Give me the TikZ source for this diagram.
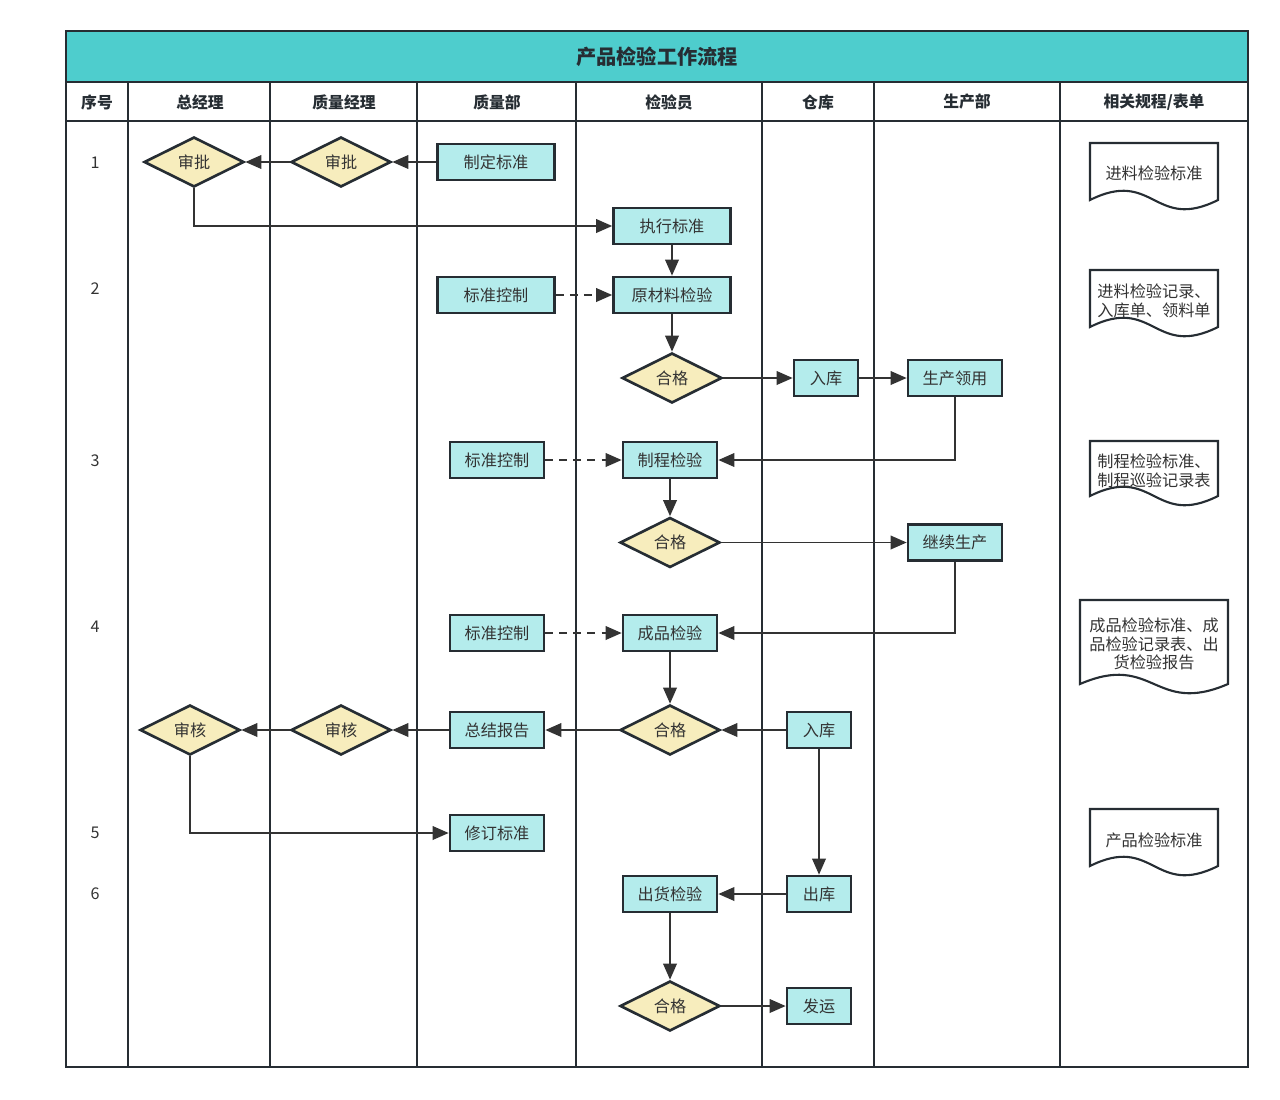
\documentclass[tikz,border=0pt]{standalone}
\usepackage{fontspec}
\setmainfont{Noto Sans CJK SC}
\usepackage{tikz}
\usetikzlibrary{shapes.geometric, arrows.meta, positioning}
\definecolor{titlecyan}{HTML}{4ECDCD}
\definecolor{boxcyan}{HTML}{B4ECEC}
\definecolor{gateyellow}{HTML}{F7EDBD}
\definecolor{edgedark}{HTML}{262D33}
\definecolor{linegray}{HTML}{333333}
\definecolor{textgray}{HTML}{333333}
\tikzstyle{task} = [rectangle, draw=edgedark, line width=1.5pt, fill=boxcyan, minimum width=1.88cm, minimum height=0.72cm, inner sep=0pt, text=textgray, font=\fontsize{9.2}{11}\selectfont]
\tikzstyle{widetask} = [task, minimum width=2.34cm]
\tikzstyle{smalltask} = [task, minimum width=1.28cm]
\tikzstyle{check} = [diamond, aspect=2, draw=edgedark, line width=1.5pt, fill=gateyellow, minimum width=2cm, minimum height=1cm, inner sep=0pt, text=textgray, font=\fontsize{9.2}{11}\selectfont]
\tikzstyle{arrow} = [line width=1.1pt, draw=linegray, -{Triangle[length=0.32cm, width=0.27cm]}]
\tikzstyle{dasharrow} = [arrow, dash pattern=on 4.5pt off 3.5pt]
\tikzstyle{lane} = [draw=edgedark, line width=1.2pt]
\tikzstyle{head} = [text=edgedark, font=\bfseries\fontsize{9}{11}\selectfont]
\tikzstyle{sheet} = [draw=edgedark, line width=1.2pt, fill=white]
\tikzstyle{sheettext} = [align=center, text=textgray, font=\fontsize{9.2}{10.6}\selectfont]

\begin{document}
\begin{tikzpicture}[x=0.02cm, y=-0.02cm, every node/.style={text=textgray, font=\fontsize{9.2}{11}\selectfont}]
    \useasboundingbox (0,0) rectangle (1280,1099);

    % table
    \fill[titlecyan] (66,31) rectangle (1248,82);
    \draw[lane] (66,31) rectangle (1248,1067);
    \draw[lane] (66,82) -- (1248,82);
    \draw[lane] (66,121) -- (1248,121);
    \foreach \x in {128,417,576,762,874,1060}
        \draw[lane] (\x,82) -- (\x,1067);
    \draw[lane, line width=1.7pt] (270,82) -- (270,1067);

    \node[head, font=\bfseries\fontsize{11.5}{13}\selectfont] (title) at (657,57) {产品检验工作流程};
    \node[head] (hnum) at (97,102) {序号};
    \node[head] (hgm) at (200,102) {总经理};
    \node[head] (hqm) at (344,102) {质量经理};
    \node[head] (hqd) at (497,102) {质量部};
    \node[head] (hins) at (669,102) {检验员};
    \node[head] (hwh) at (818,102) {仓库};
    \node[head] (hprod) at (967,102) {生产部};
    \node[head] (hdoc) at (1154,102) {相关规程/表单};

    \node (n1) at (95,163) {1};
    \node (n2) at (95,289) {2};
    \node (n3) at (95,461) {3};
    \node (n4) at (95,627) {4};
    \node (n5) at (95,833) {5};
    \node (n6) at (95,894) {6};

    % flow
    \node[check] (approvegm) at (194,162) {审批};
    \node[check] (approveqm) at (341,162) {审批};
    \node[widetask] (setstd) at (496,162) {制定标准};
    \node[widetask] (runstd) at (672,226) {执行标准};
    \node[widetask] (ctrla) at (496,295) {标准控制};
    \node[widetask] (rawcheck) at (672,295) {原材料检验};
    \node[check] (passa) at (672,378) {合格};
    \node[smalltask] (storea) at (826,378) {入库};
    \node[task] (prodtake) at (955,378) {生产领用};
    \node[task] (ctrlb) at (497,460) {标准控制};
    \node[task] (proccheck) at (670,460) {制程检验};
    \node[check] (passb) at (670,542.5) {合格};
    \node[task] (goon) at (955,542.5) {继续生产};
    \node[task] (ctrlc) at (497,633) {标准控制};
    \node[task] (finalcheck) at (670,633) {成品检验};
    \node[check] (passc) at (670,730) {合格};
    \node[smalltask] (storeb) at (819,730) {入库};
    \node[task] (summary) at (497,730) {总结报告};
    \node[check] (reviewqm) at (341,730) {审核};
    \node[check] (reviewgm) at (190,730) {审核};
    \node[task] (revise) at (497,833) {修订标准};
    \node[task] (shipcheck) at (670,894) {出货检验};
    \node[smalltask] (outstore) at (819,894) {出库};
    \node[check] (passd) at (670,1006) {合格};
    \node[smalltask] (ship) at (819,1006) {发运};

    \draw[arrow] (setstd) -- (approveqm);
    \draw[arrow] (approveqm) -- (approvegm);
    \draw[arrow] (approvegm.south) |- (runstd.west);
    \draw[arrow] (runstd) -- (rawcheck);
    \draw[dasharrow] (ctrla) -- (rawcheck);
    \draw[arrow] (rawcheck) -- (passa);
    \draw[arrow] (passa) -- (storea);
    \draw[arrow] (storea) -- (prodtake);
    \draw[arrow] (prodtake.south) |- (proccheck.east);
    \draw[dasharrow] (ctrlb) -- (proccheck);
    \draw[arrow] (proccheck) -- (passb);
    \draw[arrow] (passb) -- (goon);
    \draw[arrow] (goon.south) |- (finalcheck.east);
    \draw[dasharrow] (ctrlc) -- (finalcheck);
    \draw[arrow] (finalcheck) -- (passc);
    \draw[arrow] (storeb) -- (passc);
    \draw[arrow] (passc) -- (summary);
    \draw[arrow] (summary) -- (reviewqm);
    \draw[arrow] (reviewqm) -- (reviewgm);
    \draw[arrow] (reviewgm.south) |- (revise.west);
    \draw[arrow] (storeb) -- (outstore);
    \draw[arrow] (outstore) -- (shipcheck);
    \draw[arrow] (shipcheck) -- (passd);
    \draw[arrow] (passd) -- (ship);

    % documents
    \draw[sheet] (1090,143) -- (1218,143) -- (1218,200) .. controls (1154,232) and (1154,168) .. (1090,200) -- cycle;
    \node[sheettext] (doca) at (1154,173) {进料检验标准};
    \draw[sheet] (1090,270) -- (1218,270) -- (1218,327) .. controls (1154,359) and (1154,295) .. (1090,327) -- cycle;
    \node[sheettext] (docb) at (1154,301) {进料检验记录、\\入库单、领料单};
    \draw[sheet] (1090,441) -- (1218,441) -- (1218,496) .. controls (1154,528) and (1154,464) .. (1090,496) -- cycle;
    \node[sheettext] (docc) at (1154,471) {制程检验标准、\\制程巡验记录表};
    \draw[sheet] (1080,600) -- (1228,600) -- (1228,684) .. controls (1154,716) and (1154,652) .. (1080,684) -- cycle;
    \node[sheettext] (docd) at (1154,644) {成品检验标准、成\\品检验记录表、出\\货检验报告};
    \draw[sheet] (1090,809) -- (1218,809) -- (1218,866) .. controls (1154,898) and (1154,834) .. (1090,866) -- cycle;
    \node[sheettext] (doce) at (1154,840) {产品检验标准};
\end{tikzpicture}
\end{document}
